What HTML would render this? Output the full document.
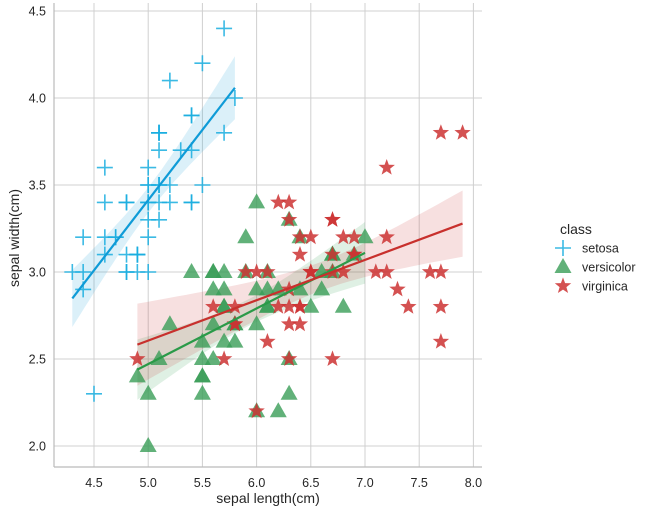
<!DOCTYPE html>
<html><head><meta charset="utf-8"><style>
body{margin:0;background:#fff;}
svg text{font-family:"Liberation Sans",sans-serif;fill:#262626;}
</style></head><body>
<svg id="s" width="650" height="514" xmlns="http://www.w3.org/2000/svg"></svg>
<script>
const S=document.getElementById('s');
const X=v=>94+(v-4.5)*108.4, Y=v=>446-(v-2)*174;
let h='';
// grid
for(let v=4.5;v<=8.01;v+=0.5){h+=`<line x1="${X(v)}" y1="3" x2="${X(v)}" y2="467" stroke="#d0d0d0" stroke-width="1"/>`;
h+=`<text x="${X(v)}" y="487" font-size="12.5" text-anchor="middle">${v.toFixed(1)}</text>`;}
for(let v=2;v<=4.51;v+=0.5){h+=`<line x1="54" y1="${Y(v)}" x2="482" y2="${Y(v)}" stroke="#d0d0d0" stroke-width="1"/>`;
h+=`<text x="46" y="${Y(v)+4.5}" font-size="12.5" text-anchor="end">${v.toFixed(1)}</text>`;}
h+=`<line x1="54" y1="3" x2="54" y2="467" stroke="#bbb" stroke-width="1.2"/><line x1="54" y1="467" x2="482" y2="467" stroke="#bbb" stroke-width="1.2"/>`;
h+=`<text x="268" y="503" font-size="14" text-anchor="middle">sepal length(cm)</text>`;
h+=`<text transform="translate(19,238) rotate(-90)" font-size="14" text-anchor="middle">sepal width(cm)</text>`;
const D={
se:"5.1 3.5,4.9 3.0,4.7 3.2,4.6 3.1,5.0 3.6,5.4 3.9,4.6 3.4,5.0 3.4,4.4 2.9,4.9 3.1,5.4 3.7,4.8 3.4,4.8 3.0,4.3 3.0,5.8 4.0,5.7 4.4,5.4 3.9,5.1 3.5,5.7 3.8,5.1 3.8,5.4 3.4,5.1 3.7,4.6 3.6,5.1 3.3,4.8 3.4,5.0 3.0,5.0 3.4,5.2 3.5,5.2 3.4,4.7 3.2,4.8 3.1,5.4 3.4,5.2 4.1,5.5 4.2,4.9 3.1,5.0 3.2,5.5 3.5,4.9 3.1,4.4 3.0,5.1 3.4,5.0 3.5,4.5 2.3,4.4 3.2,5.0 3.5,5.1 3.8,4.8 3.0,5.1 3.8,4.6 3.2,5.3 3.7,5.0 3.3",
ve:"7.0 3.2,6.4 3.2,6.9 3.1,5.5 2.3,6.5 2.8,5.7 2.8,6.3 3.3,4.9 2.4,6.6 2.9,5.2 2.7,5.0 2.0,5.9 3.0,6.0 2.2,6.1 2.9,5.6 2.9,6.7 3.1,5.6 3.0,5.8 2.7,6.2 2.2,5.6 2.5,5.9 3.2,6.1 2.8,6.3 2.5,6.1 2.8,6.4 2.9,6.6 3.0,6.8 2.8,6.7 3.0,6.0 2.9,5.7 2.6,5.5 2.4,5.5 2.4,5.8 2.7,6.0 2.7,5.4 3.0,6.0 3.4,6.7 3.1,6.3 2.3,5.6 3.0,5.5 2.5,5.5 2.6,6.1 3.0,5.8 2.6,5.0 2.3,5.6 2.7,5.7 3.0,5.7 2.9,6.2 2.9,5.1 2.5,5.7 2.8",
vi:"6.3 3.3,5.8 2.7,7.1 3.0,6.3 2.9,6.5 3.0,7.6 3.0,4.9 2.5,7.3 2.9,6.7 2.5,7.2 3.6,6.5 3.2,6.4 2.7,6.8 3.0,5.7 2.5,5.8 2.8,6.4 3.2,6.5 3.0,7.7 3.8,7.7 2.6,6.0 2.2,6.9 3.2,5.6 2.8,7.7 2.8,6.3 2.7,6.7 3.3,7.2 3.2,6.2 2.8,6.1 3.0,6.4 2.8,7.2 3.0,7.4 2.8,7.9 3.8,6.4 2.8,6.3 2.8,6.1 2.6,7.7 3.0,6.3 3.4,6.4 3.1,6.0 3.0,6.9 3.1,6.7 3.1,6.9 3.1,5.8 2.7,6.8 3.2,6.7 3.3,6.7 3.0,6.3 2.5,6.5 3.0,6.2 3.4,5.9 3.0"};
const C={se:["#1aaee0","#0f9bd7"],ve:["#3a9e58","#2a9a48"],vi:["#cc3333","#c8302d"]};
function mk(t,x,y,c){
 if(t=='se')return `<path d="M${x-8} ${y}H${x+8}M${x} ${y-8}V${y+8}" stroke="${c}" stroke-width="1.6" opacity="0.85"/>`;
 if(t=='ve')return `<path d="M${x} ${y-9}L${x+8.5} ${y+6}L${x-8.5} ${y+6}Z" fill="${c}" opacity="0.8"/>`;
 let p=[];for(let i=0;i<10;i++){let r=i%2?3.6:8.6,a=-Math.PI/2+i*Math.PI/5;p.push((x+r*Math.cos(a)).toFixed(1)+','+(y+r*Math.sin(a)).toFixed(1));}
 return `<polygon points="${p.join(' ')}" fill="${c}" opacity="0.85"/>`;}
let bands='',lines='',pts='';
for(const k of ['se','ve','vi']){
 const P=D[k].split(',').map(s=>s.split(' ').map(Number));
 const n=P.length,mx=P.reduce((a,p)=>a+p[0],0)/n,my=P.reduce((a,p)=>a+p[1],0)/n;
 let sxx=0,sxy=0;P.forEach(p=>{sxx+=(p[0]-mx)**2;sxy+=(p[0]-mx)*(p[1]-my);});
 const b=sxy/sxx,a=my-b*mx;let sse=0;P.forEach(p=>sse+=(p[1]-a-b*p[0])**2);
 const se=Math.sqrt(sse/(n-2));
 const x0=Math.min(...P.map(p=>p[0])),x1=Math.max(...P.map(p=>p[0]));
 let up=[],lo=[];
 for(let i=0;i<=40;i++){const x=x0+(x1-x0)*i/40,yh=a+b*x,e=2.01*se*Math.sqrt(1/n+(x-mx)**2/sxx);
  up.push(X(x).toFixed(1)+','+Y(yh+e).toFixed(1));lo.unshift(X(x).toFixed(1)+','+Y(yh-e).toFixed(1));}
 bands+=`<polygon points="${up.concat(lo).join(' ')}" fill="${C[k][1]}" opacity="0.15"/>`;
 lines+=`<line x1="${X(x0)}" y1="${Y(a+b*x0)}" x2="${X(x1)}" y2="${Y(a+b*x1)}" stroke="${C[k][1]}" stroke-width="2.2"/>`;
 P.forEach(p=>pts+=mk(k,X(p[0]),Y(p[1]),C[k][0]));
}
h+=bands+pts+lines;
h+=`<text x="560" y="234" font-size="14">class</text>`;
[['se','setosa',248],['ve','versicolor',267],['vi','virginica',286]].forEach(([k,t,y])=>{
 h+=mk(k,563,y,C[k][0])+`<text x="582" y="${y+4.5}" font-size="12.5">${t}</text>`;});
S.innerHTML=h;
</script>
</body></html>
